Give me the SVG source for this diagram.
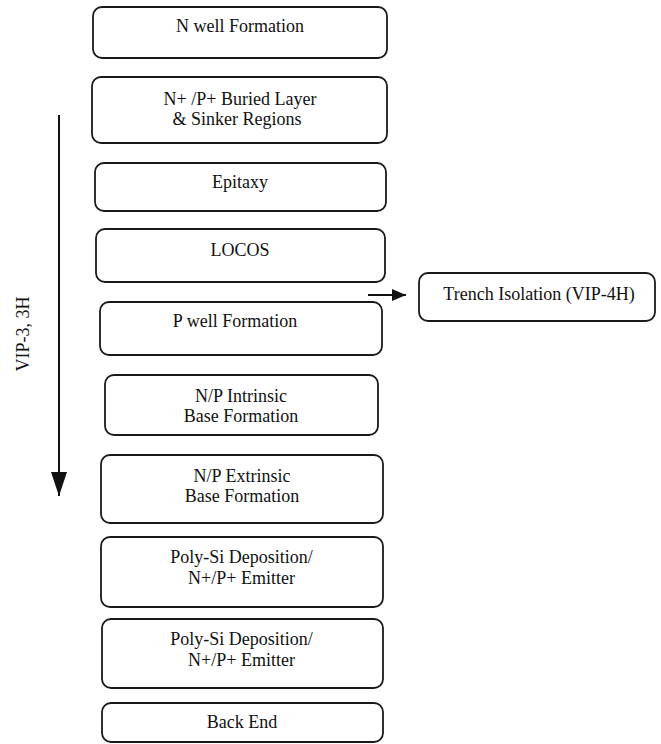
<svg xmlns="http://www.w3.org/2000/svg" width="661" height="744" viewBox="0 0 661 744">
<defs>
<style>
.box{fill:#ffffff;stroke:#1a1a1a;stroke-width:1.8}
.t{font-family:"Liberation Serif","Times New Roman",serif;font-size:18px;fill:#111;text-anchor:middle}
.ln{stroke:#111;stroke-width:2;fill:none}
</style>
<marker id="ahv" viewBox="0 0 24 16" refX="24" refY="8" markerWidth="24" markerHeight="16" markerUnits="userSpaceOnUse" orient="auto">
<path d="M0,0 L24,8 L0,16 Z" fill="#111"/>
</marker>
<marker id="ahh" viewBox="0 0 14 12" refX="14" refY="6" markerWidth="14" markerHeight="12" markerUnits="userSpaceOnUse" orient="auto">
<path d="M0,0 L14,6 L0,12 Z" fill="#111"/>
</marker>
</defs>
<rect width="661" height="744" fill="#ffffff"/>
<g id="n1"><rect class="box" x="93" y="7" width="294" height="51" rx="9"/><text class="t" x="240" y="32">N well Formation</text></g>
<g id="n2"><rect class="box" x="92" y="77" width="295" height="66" rx="9"/><text class="t" x="240" y="105">N+ /P+ Buried Layer</text><text class="t" x="237" y="125">&amp; Sinker Regions</text></g>
<g id="n3"><rect class="box" x="95" y="163" width="291" height="48" rx="9"/><text class="t" x="240" y="188">Epitaxy</text></g>
<g id="n4"><rect class="box" x="96" y="229" width="289" height="53" rx="9"/><text class="t" x="240" y="256">LOCOS</text></g>
<g id="n5"><rect class="box" x="100" y="302" width="282" height="53" rx="9"/><text class="t" x="235" y="327">P well Formation</text></g>
<g id="n6"><rect class="box" x="419" y="273" width="236" height="48" rx="9"/><text class="t" x="539" y="300">Trench Isolation (VIP-4H)</text></g>
<g id="n7"><rect class="box" x="105" y="375" width="273" height="60" rx="9"/><text class="t" x="241" y="402">N/P Intrinsic</text><text class="t" x="241" y="422">Base Formation</text></g>
<g id="n8"><rect class="box" x="101" y="455" width="282" height="68" rx="9"/><text class="t" x="242" y="482">N/P Extrinsic</text><text class="t" x="242" y="502">Base Formation</text></g>
<g id="n9"><rect class="box" x="101" y="537" width="282" height="70" rx="9"/><text class="t" x="241.5" y="563">Poly-Si Deposition/</text><text class="t" x="241.5" y="584">N+/P+ Emitter</text></g>
<g id="n10"><rect class="box" x="102" y="619" width="281" height="69" rx="9"/><text class="t" x="241.5" y="645">Poly-Si Deposition/</text><text class="t" x="241.5" y="666">N+/P+ Emitter</text></g>
<g id="n11"><rect class="box" x="102" y="703" width="281" height="39" rx="9"/><text class="t" x="242" y="728">Back End</text></g>
<g id="connectors">
<line class="ln" x1="59" y1="115" x2="59" y2="496" marker-end="url(#ahv)"/>
<line class="ln" x1="368" y1="295" x2="406" y2="295" marker-end="url(#ahh)"/>
<text class="t" transform="translate(29,334) rotate(-90)" x="0" y="0">VIP-3, 3H</text>
</g>
</svg>
